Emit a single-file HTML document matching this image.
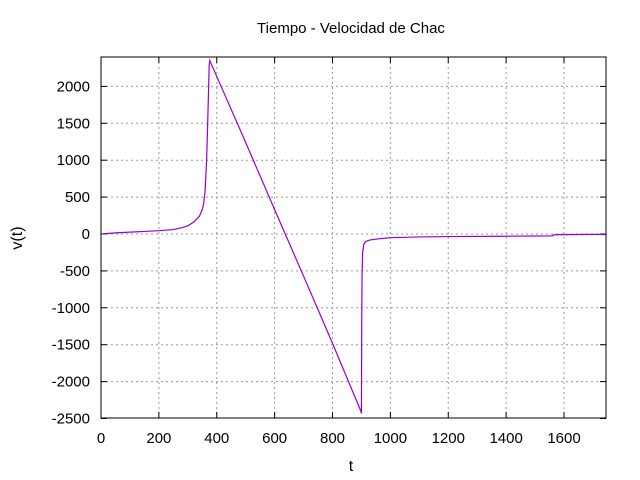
<!DOCTYPE html>
<html><head><meta charset="utf-8"><style>
body{margin:0;background:#fff;}
svg{display:block;font-family:"Liberation Sans",sans-serif;}
</style></head><body>
<svg id="chart" width="640" height="480">
<text x="351" y="33" font-size="15" text-anchor="middle">Tiempo - Velocidad de Chac</text>
<text x="351" y="471" font-size="16" text-anchor="middle">t</text>
<text x="22" y="238" font-size="16" text-anchor="middle" transform="rotate(-90 22 238)">v(t)</text>
<g id="grid"></g><g id="ticks"></g>
<polyline id="series" fill="none" stroke="#9400d3" stroke-width="1.2"/>
<rect x="101" y="57" width="505" height="361" fill="none" stroke="#000" stroke-width="1"/>
</svg>
<script>
const xTicks=[0,200,400,600,800,1000,1200,1400,1600];
const yTicks=[-2500,-2000,-1500,-1000,-500,0,500,1000,1500,2000];
const tValues=[0,50,100,150,200,250,280,300,320,340,350,355,360,365,368,370,372,374,376,500,600,700,800,898,900,901,902,904,908,915,930,960,1000,1100,1200,1400,1560,1565,1700,1745];
const vValues=[0,15,25,35,45,60,85,110,160,240,330,420,600,1000,1400,1700,2000,2300,2350,1240,330,-570,-1480,-2400,-2430,-1200,-600,-250,-140,-100,-80,-65,-50,-40,-35,-30,-25,-10,-5,-5];
const X=t=>101+t*(463/1600);
const Y=v=>234-v*(36.9/500);
const NS='http://www.w3.org/2000/svg';
const grid=document.getElementById('grid'),ticks=document.getElementById('ticks');
function mk(tag,a,p){const e=document.createElementNS(NS,tag);for(const k in a)e.setAttribute(k,a[k]);p.appendChild(e);return e;}
xTicks.forEach(t=>{const x=X(t);
 if(t>0){const g=mk('line',{x1:x,x2:x,y1:57,y2:418,stroke:'#999','stroke-dasharray':'2,3'},grid);
 
 }
 const tk=mk('line',{x1:x,x2:x,y1:418,y2:412,stroke:'#000'},ticks);
 
 
 const tk2=mk('line',{x1:x,x2:x,y1:57,y2:63,stroke:'#000'},ticks);
 
 
 const l=mk('text',{x:x,y:443,'font-size':15,'text-anchor':'middle'},ticks);l.textContent=t;
 
 });
yTicks.forEach(v=>{const y=Y(v);
 if(v>-2500){const g=mk('line',{x1:101,x2:606,y1:y,y2:y,stroke:'#999','stroke-dasharray':'2,3'},grid);
 
 }
 const tk=mk('line',{x1:101,x2:107,y1:y,y2:y,stroke:'#000'},ticks);
 
 
 const tk2=mk('line',{x1:600,x2:606,y1:y,y2:y,stroke:'#000'},ticks);
 
 
 const l=mk('text',{x:90,y:y+5,'font-size':15,'text-anchor':'end'},ticks);l.textContent=v;
 
 });
document.getElementById('series').setAttribute('points',tValues.map((t,i)=>X(t)+','+Y(vValues[i])).join(' '));
</script>
</body></html>
